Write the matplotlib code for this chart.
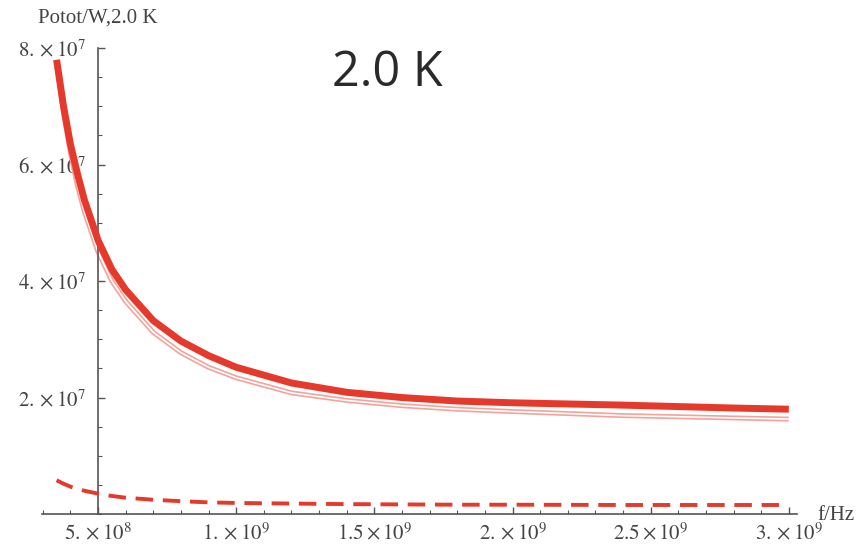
import numpy as np
import matplotlib
matplotlib.use("Agg")
import matplotlib.pyplot as plt
from matplotlib.ticker import MultipleLocator, FixedLocator

# values (f in Hz, power in W)
freq = [3.5e8, 3.75e8, 4.0e8, 4.25e8, 4.5e8, 5.0e8, 5.5e8, 6.0e8, 7.0e8, 8.0e8,
        9.0e8, 1.0e9, 1.2e9, 1.4e9, 1.6e9, 1.8e9, 2.0e9, 2.4e9, 2.8e9, 3.0e9]
p_thick = [7.8e7, 7.0e7, 6.35e7, 5.85e7, 5.4e7, 4.7e7, 4.2e7, 3.85e7, 3.32e7, 2.97e7,
           2.72e7, 2.52e7, 2.25e7, 2.09e7, 2.0e7, 1.94e7, 1.91e7, 1.87e7, 1.82e7, 1.80e7]
p_thin = [7.75e7, 6.9e7, 6.2e7, 5.65e7, 5.2e7, 4.5e7, 4.0e7, 3.65e7, 3.12e7, 2.77e7,
          2.52e7, 2.34e7, 2.08e7, 1.95e7, 1.86e7, 1.8e7, 1.76e7, 1.69e7, 1.65e7, 1.63e7]
p_dash = [0.58e7, 0.52e7, 0.47e7, 0.43e7, 0.40e7, 0.35e7, 0.31e7, 0.28e7, 0.245e7, 0.22e7,
          0.20e7, 0.19e7, 0.18e7, 0.17e7, 0.165e7, 0.16e7, 0.16e7, 0.155e7, 0.155e7, 0.155e7]

xticks = [5e8, 1e9, 1.5e9, 2e9, 2.5e9, 3e9]
xlabels = [r"$5.\times 10^{8}$", r"$1.\times 10^{9}$", r"$1.5\times 10^{9}$",
           r"$2.\times 10^{9}$", r"$2.5\times 10^{9}$", r"$3.\times 10^{9}$"]
yticks = [2e7, 4e7, 6e7, 8e7]
ylabels = [r"$2.\times 10^{7}$", r"$4.\times 10^{7}$", r"$6.\times 10^{7}$", r"$8.\times 10^{7}$"]

plt.rcParams["mathtext.fontset"] = "stix"
plt.rcParams["font.family"] = "Liberation Serif"

red = "#e5392c"
grey = "#555555"

fig = plt.figure(figsize=(8.67, 5.52), dpi=100)
ax = fig.add_axes([0.0484, 0.0688, 0.871, 0.844])

# thin double line: light red line with a white core
ax.plot(freq, p_thin, color="#f3a39b", lw=3.6, solid_capstyle="butt", zorder=2)
ax.plot(freq, p_thin, color="white", lw=1.2, zorder=2.1)
ax.plot(freq, p_thick, color=red, lw=5.0, solid_capstyle="butt", zorder=3)
ax.plot(freq, p_dash, color=red, lw=2.8, dashes=(4.5, 2.5), zorder=3)

ax.set_xlim(2.97e8, 3.03e9)
ax.set_ylim(0, 8e7)

# Mathematica style axes crossing at (5e8, 0)
for s in ["top", "right"]:
    ax.spines[s].set_visible(False)
ax.spines["left"].set_position(("data", 5e8))
ax.spines["bottom"].set_position(("data", 0))
for s in ["left", "bottom"]:
    ax.spines[s].set_color(grey)
    ax.spines[s].set_linewidth(1.2)

ax.xaxis.set_major_locator(FixedLocator(xticks))
ax.set_xticklabels(xlabels)
ax.xaxis.set_minor_locator(MultipleLocator(1e8))
ax.yaxis.set_major_locator(FixedLocator(yticks))
ax.set_yticklabels(ylabels)
ax.yaxis.set_minor_locator(MultipleLocator(5e6))

ax.tick_params(which="major", direction="in", length=5, width=1, color=grey,
               labelsize=15, labelcolor="#444444")
ax.tick_params(which="minor", direction="in", length=3, width=0.8, color=grey)
ax.tick_params(axis="x", pad=6)
ax.tick_params(axis="y", pad=9)

fig.text(817 / 867, 1 - 515 / 552, "f/Hz", fontsize=15, color="#444444",
         ha="left", va="center")
fig.text(98 / 867, 1 - 18 / 552, "Potot/W,2.0 K", fontsize=15, color="#444444",
         ha="center", va="center")
fig.text(387 / 867, 1 - 73 / 552, "2.0 K", fontsize=35, color="#2a2a2a",
         family="Open Sans", ha="center", va="center")

fig.savefig("out.png", dpi=100)
